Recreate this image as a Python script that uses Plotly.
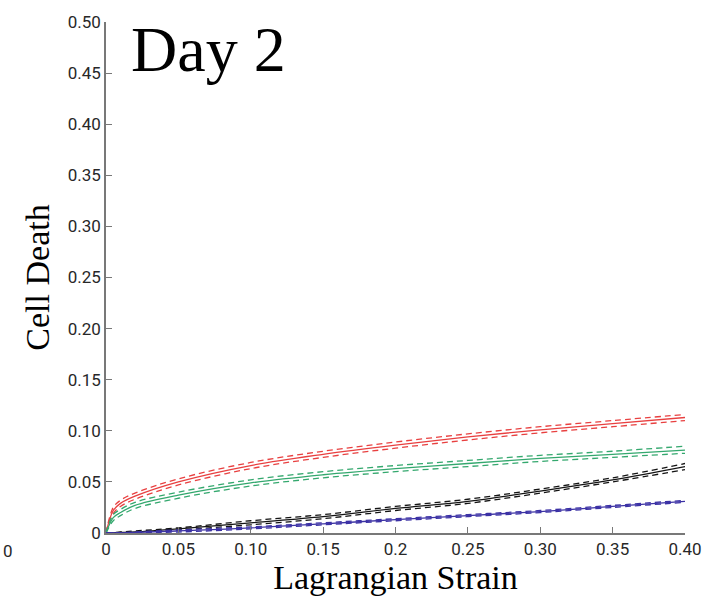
import plotly.graph_objects as go

strain = [0, 0.005, 0.01, 0.02, 0.05, 0.10, 0.15, 0.20, 0.25, 0.30, 0.35, 0.40]

red_mid = [0, 0.022, 0.029, 0.036, 0.050, 0.066, 0.077, 0.086, 0.094, 0.101, 0.107, 0.113]
red_hi = [0, 0.025, 0.032, 0.039, 0.053, 0.069, 0.080, 0.089, 0.097, 0.104, 0.110, 0.116]
red_lo = [0, 0.019, 0.026, 0.033, 0.047, 0.063, 0.074, 0.083, 0.091, 0.098, 0.104, 0.110]

green_mid = [0, 0.015, 0.020, 0.027, 0.037, 0.049, 0.057, 0.063, 0.068, 0.073, 0.077, 0.081]
green_hi = [0, 0.018, 0.023, 0.030, 0.040, 0.052, 0.060, 0.066, 0.071, 0.076, 0.080, 0.085]
green_lo = [0, 0.012, 0.017, 0.024, 0.034, 0.046, 0.054, 0.060, 0.065, 0.070, 0.074, 0.078]

black_mid = [0, 0.0002, 0.0005, 0.001, 0.004, 0.010, 0.016, 0.024, 0.031, 0.041, 0.052, 0.065]
black_hi = [0, 0.0004, 0.001, 0.002, 0.005, 0.012, 0.018, 0.026, 0.033, 0.043, 0.054, 0.068]
black_lo = [0, 0.0001, 0.0003, 0.0005, 0.003, 0.008, 0.014, 0.022, 0.029, 0.039, 0.050, 0.062]

blue_mid = [0, 0.0001, 0.0002, 0.0005, 0.002, 0.005, 0.009, 0.013, 0.017, 0.021, 0.026, 0.031]
blue_hi = [0, 0.0002, 0.0004, 0.001, 0.003, 0.006, 0.010, 0.014, 0.018, 0.022, 0.027, 0.032]
blue_lo = [0, 0.0, 0.0001, 0.0003, 0.001, 0.004, 0.008, 0.012, 0.016, 0.020, 0.025, 0.030]

x_tickvals = [0, 0.05, 0.10, 0.15, 0.20, 0.25, 0.30, 0.35, 0.40]
x_ticktext = ["0", "0.05", "0.10", "0.15", "0.2", "0.25", "0.30", "0.35", "0.40"]
y_tickvals = [0, 0.05, 0.10, 0.15, 0.20, 0.25, 0.30, 0.35, 0.40, 0.45, 0.50]
y_ticktext = ["0", "0.05", "0.10", "0.15", "0.20", "0.25", "0.30", "0.35", "0.40", "0.45", "0.50"]

series = [
    ("rgb(232,64,64)", red_mid, red_hi, red_lo),
    ("rgb(52,168,110)", green_mid, green_hi, green_lo),
    ("rgb(20,20,20)", black_mid, black_hi, black_lo),
    ("rgb(60,50,165)", blue_mid, blue_hi, blue_lo),
]

fig = go.Figure()
for color, mid, hi, lo in series:
    for ys in (hi, lo):
        fig.add_trace(go.Scatter(x=strain, y=ys, mode="lines",
                                 line=dict(color=color, width=1.3, dash="6px,4px", shape="spline"),
                                 showlegend=False, hoverinfo="skip"))
    fig.add_trace(go.Scatter(x=strain, y=mid, mode="lines",
                             line=dict(color=color, width=1.3, shape="spline"),
                             showlegend=False))

tick_font = dict(family="Roboto, Liberation Sans, Arial", size=17, color="rgb(40,40,40)")
title_font = dict(family="Liberation Serif, Times New Roman", size=34, color="black")

fig.update_layout(
    width=714, height=600,
    margin=dict(l=106, r=24, t=17, b=67),
    paper_bgcolor="white", plot_bgcolor="white",
    xaxis=dict(range=[0, 0.4], tickvals=x_tickvals, ticktext=x_ticktext,
               showgrid=False, zeroline=False, showline=True, linecolor="rgb(120,120,120)", linewidth=1.5,
               ticks="inside", ticklen=6, tickcolor="rgb(120,120,120)", tickfont=tick_font,
               title=dict(text="Lagrangian Strain", standoff=4, font=title_font)),
    yaxis=dict(range=[0, 0.5], tickvals=y_tickvals, ticktext=y_ticktext,
               showgrid=False, zeroline=False, showline=True, linecolor="rgb(120,120,120)", linewidth=1.5,
               ticks="inside", ticklen=6, tickcolor="rgb(120,120,120)", tickfont=tick_font,
               title=dict(text="Cell Death", standoff=8, font=title_font)),
)
fig.add_annotation(text="Day 2", x=0.04, y=1.02, xref="paper", yref="paper", xanchor="left", yanchor="top",
                   showarrow=False, font=dict(family="Liberation Serif, Times New Roman", size=64, color="black"))
fig.add_annotation(text="0", x=-0.182, y=-0.012, xref="paper", yref="paper", xanchor="left", yanchor="top",
                   showarrow=False, font=tick_font)

fig.write_html("out.html")
